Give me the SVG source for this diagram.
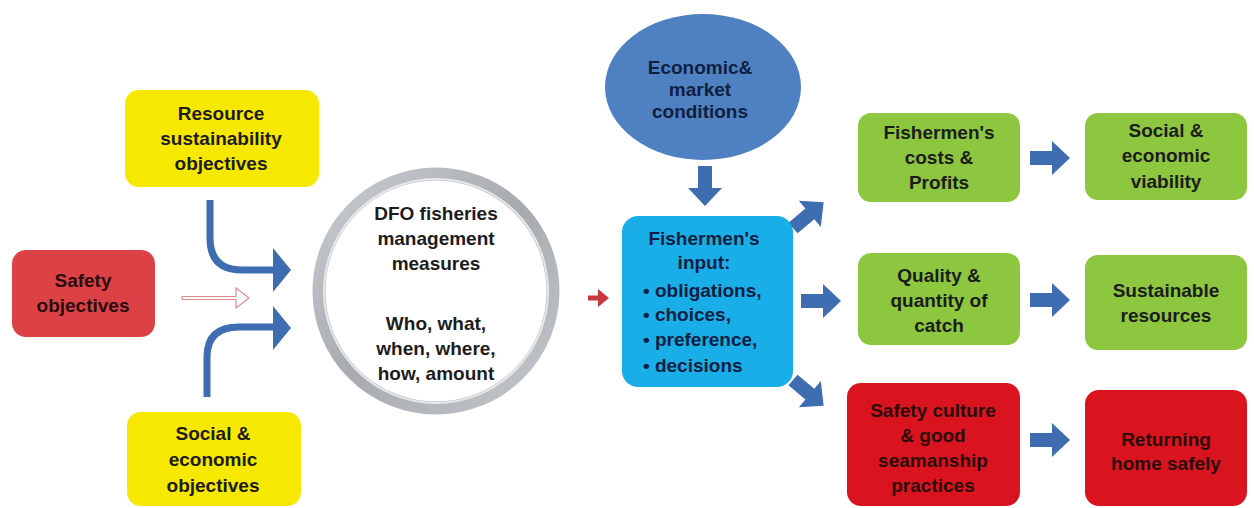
<svg xmlns="http://www.w3.org/2000/svg" width="1254" height="508" viewBox="0 0 1254 508">
<style>
  text { font-family: "Liberation Sans", Arial, sans-serif; font-weight: bold; font-size: 19px; fill: #1c1c1c; text-anchor: middle; }
  .yellow { fill: #f7e800; }
  .green { fill: #8dc63f; }
  .red1 { fill: #dc4245; }
  .red2 { fill: #d9141f; }
  .arr { fill: #3f6db1; }
  .dk { fill: #2a0c0c; }
  .nv { fill: #102040; }
</style>
<defs>
  <path id="blockR" d="M0,-7 H22 V-17 L40,0 L22,17 V7 H0 Z"/>
  <linearGradient id="ring" x1="0" y1="0" x2="1" y2="1">
    <stop offset="0" stop-color="#c9ccd0"/>
    <stop offset="0.5" stop-color="#a7abb0"/>
    <stop offset="1" stop-color="#c4c7cb"/>
  </linearGradient>
</defs>
<rect width="1254" height="508" fill="#ffffff"/>

<g id="connectors">
  <path d="M210,200 V238 Q210,270 242,270 H276" fill="none" stroke="#3f6db1" stroke-width="7"/>
  <polygon class="arr" points="273,248 291,270 273,292"/>
  <path d="M207,397 V357 Q207,327 239,327 H276" fill="none" stroke="#3f6db1" stroke-width="7"/>
  <polygon class="arr" points="273,306 291,328 273,350"/>
  <path d="M182,296.5 H236 V288 L249,298 L236,308 V299.5 H182 Z" fill="#ffffff" stroke="#e28a8a" stroke-width="1.2"/>
  <path d="M588,295.5 H598 V289 L609,298 L598,307 V300.5 H588 Z" fill="#c8373b"/>
  <use href="#blockR" class="arr" transform="translate(705,166) rotate(90)"/>
  <use href="#blockR" class="arr" transform="translate(793,228) rotate(-40)"/>
  <use href="#blockR" class="arr" transform="translate(801,301)"/>
  <use href="#blockR" class="arr" transform="translate(793,380) rotate(40)"/>
  <use href="#blockR" class="arr" transform="translate(1030,158)"/>
  <use href="#blockR" class="arr" transform="translate(1030,300)"/>
  <use href="#blockR" class="arr" transform="translate(1030,440)"/>
</g>

<g id="resource-obj">
  <rect class="yellow" x="125" y="90" width="194" height="97" rx="14"/>
  <text x="221" y="120">Resource</text>
  <text x="221" y="145">sustainability</text>
  <text x="221" y="170">objectives</text>
</g>

<g id="safety-obj">
  <rect class="red1" x="12" y="250" width="143" height="87" rx="14"/>
  <text class="dk" x="83" y="287">Safety</text>
  <text class="dk" x="83" y="312">objectives</text>
</g>

<g id="social-obj">
  <rect class="yellow" x="127" y="412" width="174" height="94" rx="14"/>
  <text x="213" y="440">Social &amp;</text>
  <text x="213" y="466">economic</text>
  <text x="213" y="492">objectives</text>
</g>

<g id="dfo">
  <circle cx="436" cy="291" r="117" fill="#ffffff" stroke="url(#ring)" stroke-width="13"/>
  <circle cx="436" cy="291" r="112" fill="none" stroke="#e6e8ea" stroke-width="2"/>
  <text x="436" y="220">DFO fisheries</text>
  <text x="436" y="245">management</text>
  <text x="436" y="270">measures</text>
  <text x="436" y="330">Who, what,</text>
  <text x="436" y="355">when, where,</text>
  <text x="436" y="380">how, amount</text>
</g>

<g id="economic">
  <ellipse cx="703" cy="87" rx="98" ry="73" fill="#4f81c2"/>
  <text class="nv" x="700" y="74">Economic&amp;</text>
  <text class="nv" x="700" y="96">market</text>
  <text class="nv" x="700" y="118">conditions</text>
</g>

<g id="fishermen-input">
  <rect x="622" y="216" width="171" height="171" rx="16" fill="#1aaee8"/>
  <text class="nv" x="704" y="245">Fishermen's</text>
  <text class="nv" x="704" y="269">input:</text>
  <text class="nv" x="643" y="297" style="text-anchor:start">• obligations,</text>
  <text class="nv" x="643" y="321" style="text-anchor:start">• choices,</text>
  <text class="nv" x="643" y="346" style="text-anchor:start">• preference,</text>
  <text class="nv" x="643" y="372" style="text-anchor:start">• decisions</text>
</g>

<g id="costs">
  <rect class="green" x="858" y="113" width="162" height="89" rx="13"/>
  <text x="939" y="139">Fishermen's</text>
  <text x="939" y="164">costs &amp;</text>
  <text x="939" y="189">Profits</text>
</g>

<g id="viability">
  <rect class="green" x="1085" y="113" width="162" height="87" rx="13"/>
  <text x="1166" y="137">Social &amp;</text>
  <text x="1166" y="162">economic</text>
  <text x="1166" y="188">viability</text>
</g>

<g id="quality">
  <rect class="green" x="858" y="253" width="162" height="92" rx="13"/>
  <text x="939" y="282">Quality &amp;</text>
  <text x="939" y="307">quantity of</text>
  <text x="939" y="332">catch</text>
</g>

<g id="sustainable">
  <rect class="green" x="1085" y="255" width="162" height="95" rx="13"/>
  <text x="1166" y="297">Sustainable</text>
  <text x="1166" y="322">resources</text>
</g>

<g id="safety-culture">
  <rect class="red2" x="847" y="383" width="173" height="123" rx="14"/>
  <text class="dk" x="933" y="417">Safety culture</text>
  <text class="dk" x="933" y="442">&amp; good</text>
  <text class="dk" x="933" y="467">seamanship</text>
  <text class="dk" x="933" y="492">practices</text>
</g>

<g id="returning">
  <rect class="red2" x="1085" y="390" width="162" height="116" rx="14"/>
  <text class="dk" x="1166" y="446">Returning</text>
  <text class="dk" x="1166" y="470">home safely</text>
</g>
</svg>
